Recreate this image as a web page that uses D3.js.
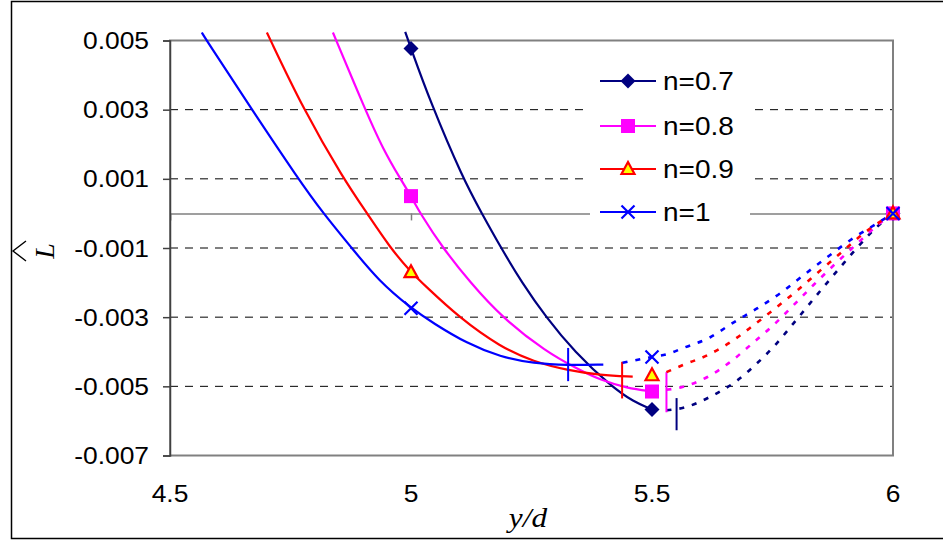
<!DOCTYPE html>
<html><head><meta charset="utf-8">
<script src="https://cdn.jsdelivr.net/npm/d3@7/dist/d3.min.js"></script>
<style>body{margin:0;background:#fff}svg{display:block}</style>
</head><body>
<svg id="c" width="943" height="542"></svg>
<script>
// ---------- data ----------
const xTicks = [4.5, 5, 5.5, 6];
const xTickLabels = ["4.5", "5", "5.5", "6"];
const yTicks = [0.005, 0.003, 0.001, -0.001, -0.003, -0.005, -0.007];
const yTickLabels = ["0.005", "0.003", "0.001", "-0.001", "-0.003", "-0.005", "-0.007"];
const gridValues = [0.003, 0.001, -0.001, -0.003, -0.005];
const seriesNames = ["n=0.7", "n=0.8", "n=0.9", "n=1"];
const seriesColors = ["#000080", "#FF00FF", "#FF0000", "#0000FF"];
const markerShapes = ["diamond", "square", "triangle", "cross"];

const markerX = [5, 5.5, 6];
const markersN07 = [0.00477, -0.00567, 0];
const markersN08 = [0.0005, -0.00515, 0];
const markersN09 = [-0.0017, -0.00468, 0];
const markersN1  = [-0.00274, -0.00415, 0];

const solidN07 = [[4.988,0.00525],[5.0,0.00477],[5.04,0.00323],[5.108,0.001],[5.147,0],[5.187,-0.001],[5.23,-0.002],[5.28,-0.003],[5.339,-0.004],[5.415,-0.005],[5.462,-0.00545],[5.5,-0.00567]];
const solidN08 = [[4.838,0.00523],[4.905,0.003],[4.943,0.00183],[4.978,0.001],[5.0,0.0005],[5.019,0],[5.066,-0.001],[5.123,-0.002],[5.188,-0.003],[5.28,-0.004],[5.346,-0.0045],[5.393,-0.00482],[5.448,-0.00505],[5.5,-0.00515]];
const solidN09 = [[4.701,0.00523],[4.777,0.003],[4.86,0.001],[4.909,0],[4.957,-0.001],[5.0,-0.0017],[5.03,-0.0021],[5.099,-0.003],[5.185,-0.00386],[5.255,-0.00429],[5.324,-0.00453],[5.393,-0.00468],[5.46,-0.00472]];
const solidN1  = [[4.566,0.00523],[4.576,0.005],[4.67,0.003],[4.766,0.001],[4.818,0],[4.877,-0.001],[4.933,-0.00195],[5.0,-0.00274],[5.047,-0.00318],[5.116,-0.00376],[5.185,-0.00415],[5.255,-0.00434],[5.324,-0.00439],[5.399,-0.00437]];

const dottedN07 = [[5.53,-0.00569],[5.565,-0.00562],[5.621,-0.0053],[5.673,-0.00487],[5.719,-0.00432],[5.756,-0.0038],[5.794,-0.00317],[5.854,-0.00216],[5.891,-0.00155],[5.927,-0.00097],[5.96,-0.00048],[6,0]];
const dottedN08 = [[5.53,-0.0051],[5.563,-0.00502],[5.615,-0.00473],[5.659,-0.00433],[5.709,-0.00375],[5.752,-0.00323],[5.794,-0.00265],[5.835,-0.00207],[5.877,-0.0015],[5.918,-0.00097],[5.968,-0.00034],[6,0]];
const dottedN09 = [[5.53,-0.00459],[5.563,-0.00439],[5.615,-0.0041],[5.663,-0.00372],[5.711,-0.00323],[5.756,-0.00274],[5.802,-0.00222],[5.85,-0.00164],[5.891,-0.00115],[5.939,-0.00058],[6,0]];
const dottedN1  = [[5.439,-0.00432],[5.5,-0.00415],[5.532,-0.00407],[5.563,-0.0039],[5.621,-0.00358],[5.667,-0.00317],[5.719,-0.00274],[5.767,-0.0023],[5.815,-0.00178],[5.864,-0.00126],[5.918,-0.00071],[5.968,-0.00028],[6,0]];

// vertical marks [x, yTop, yBottom]
const minMarkN07 = [5.551, -0.00534, -0.00627];
const minMarkN08 = [5.530, -0.00459, -0.00575];
const minMarkN09 = [5.438, -0.00429, -0.00535];
const minMarkN1  = [5.326, -0.00389, -0.00485];

const markerSets = [markersN07, markersN08, markersN09, markersN1];
const solidSets = [solidN07, solidN08, solidN09, solidN1];
const dottedSets = [dottedN07, dottedN08, dottedN09, dottedN1];
const minMarks = [minMarkN07, minMarkN08, minMarkN09, minMarkN1];

// ---------- drawing ----------
const svg = d3.select("#c");
const x = d3.scaleLinear().domain([4.5, 6]).range([170, 893]);
const y = d3.scaleLinear().domain([-0.007, 0.005]).range([455.5, 40.5]);
const sansFont = "'Liberation Sans', Arial, sans-serif";
const serifFont = "'Liberation Serif', 'Times New Roman', serif";

svg.append("rect").attr("x", 0).attr("y", 0).attr("width", 943).attr("height", 542).attr("fill", "#fff");
svg.append("rect").attr("x", 11.5).attr("y", 1.5).attr("width", 945).attr("height", 537)
  .attr("fill", "none").attr("stroke", "#000").attr("stroke-width", 1.5);

svg.append("g").selectAll("line").data(gridValues).join("line")
  .attr("x1", x(4.5)).attr("x2", x(6)).attr("y1", d => y(d)).attr("y2", d => y(d))
  .attr("stroke", "#000").attr("stroke-width", 1).attr("stroke-dasharray", "8,7");

svg.append("rect").attr("x", x(4.5)).attr("y", y(0.005)).attr("width", x(6) - x(4.5)).attr("height", y(-0.007) - y(0.005))
  .attr("fill", "none").attr("stroke", "#808080").attr("stroke-width", 2);

const xAxis = d3.axisBottom(x).tickValues(xTicks).tickSize(7).tickFormat("");
const gx = svg.append("g").attr("transform", `translate(0,${y(0)})`).call(xAxis);
gx.select(".domain").attr("stroke", "#808080").attr("stroke-width", 1.5);
gx.selectAll(".tick line").attr("stroke", "#808080").attr("stroke-width", 1.5);

svg.append("g").selectAll("text").data(xTicks).join("text")
  .attr("transform", d => `translate(${x(d)},502) scale(1.1,1)`)
  .attr("text-anchor", "middle").attr("font-family", sansFont).attr("font-size", 24)
  .attr("fill", "#000").text((d, i) => xTickLabels[i]);

const yAxis = d3.axisLeft(y).tickValues(yTicks).tickSize(7).tickFormat("");
const gy = svg.append("g").attr("transform", `translate(${x(4.5)},0)`).call(yAxis);
gy.select(".domain").attr("stroke", "#404040").attr("stroke-width", 1.5);
gy.selectAll(".tick line").attr("stroke", "#404040").attr("stroke-width", 1.5);
svg.append("g").selectAll("text").data(yTicks).join("text")
  .attr("transform", d => `translate(149,${y(d) + 8.5}) scale(1.1,1)`)
  .attr("text-anchor", "end").attr("font-family", sansFont).attr("font-size", 24)
  .attr("fill", "#000").text((d, i) => yTickLabels[i]);

svg.append("text").attr("transform", "translate(528,527) scale(1.12,1)")
  .attr("text-anchor", "middle").attr("font-family", serifFont).attr("font-style", "italic")
  .attr("font-size", 28).attr("fill", "#000").text("y/d");
const yl = svg.append("g").attr("transform", "translate(54,251) rotate(-90)");
yl.append("text").attr("x", 0).attr("y", 0).attr("text-anchor", "middle")
  .attr("font-family", serifFont).attr("font-style", "italic").attr("font-size", 28).attr("fill", "#000").text("L");
yl.append("path").attr("d", "M-10,-28 L0,-41 L10,-28").attr("fill", "none").attr("stroke", "#000").attr("stroke-width", 1.4);

const solidLine = d3.line().x(d => x(d[0])).y(d => y(d[1])).curve(d3.curveBasis);
const dotLine = d3.line().x(d => x(d[0])).y(d => y(d[1])).curve(d3.curveMonotoneX);
const gc = svg.append("g");
seriesNames.forEach((name, i) => {
  gc.append("path").datum(solidSets[i]).attr("d", solidLine).attr("fill", "none")
    .attr("stroke", seriesColors[i]).attr("stroke-width", 2.2);
  gc.append("path").datum(dottedSets[i]).attr("d", dotLine).attr("fill", "none")
    .attr("stroke", seriesColors[i]).attr("stroke-width", 2.6).attr("stroke-dasharray", "5,8");
  const m = minMarks[i];
  gc.append("line").attr("x1", x(m[0])).attr("x2", x(m[0])).attr("y1", y(m[1])).attr("y2", y(m[2]))
    .attr("stroke", seriesColors[i]).attr("stroke-width", 2);
});

function drawMarker(g, shape, color, cx, cy) {
  if (shape === "diamond") {
    g.append("path").attr("d", `M${cx},${cy-7.5} L${cx+7.5},${cy} L${cx},${cy+7.5} L${cx-7.5},${cy} Z`).attr("fill", color);
  } else if (shape === "square") {
    g.append("rect").attr("x", cx - 7).attr("y", cy - 7).attr("width", 14).attr("height", 14).attr("fill", color);
  } else if (shape === "triangle") {
    g.append("path").attr("d", `M${cx},${cy-7} L${cx+6.5},${cy+5} L${cx-6.5},${cy+5} Z`)
      .attr("fill", "#FFFF00").attr("stroke", color).attr("stroke-width", 2.2);
  } else {
    g.append("path").attr("d", `M${cx-6.5},${cy-6.5} L${cx+6.5},${cy+6.5} M${cx-6.5},${cy+6.5} L${cx+6.5},${cy-6.5}`)
      .attr("stroke", color).attr("stroke-width", 2.2).attr("fill", "none");
  }
}
const gm = svg.append("g");
seriesNames.forEach((name, i) => {
  markerX.forEach((mx, j) => drawMarker(gm, markerShapes[i], seriesColors[i], x(mx), y(markerSets[i][j])));
});

const lg = svg.append("g");
lg.append("rect").attr("x", 590).attr("y", 58).attr("width", 160).attr("height", 178).attr("fill", "#fff");
const legendRows = [81, 126, 169, 212];
seriesNames.forEach((name, i) => {
  const ly = legendRows[i];
  lg.append("line").attr("x1", 600).attr("x2", 656).attr("y1", ly).attr("y2", ly)
    .attr("stroke", seriesColors[i]).attr("stroke-width", 2.2);
  drawMarker(lg, markerShapes[i], seriesColors[i], 628, ly);
  lg.append("text").attr("transform", `translate(663,${ly + 9}) scale(1.12,1)`)
    .attr("font-family", sansFont).attr("font-size", 25).attr("fill", "#000").text(name);
});
</script>
</body></html>
